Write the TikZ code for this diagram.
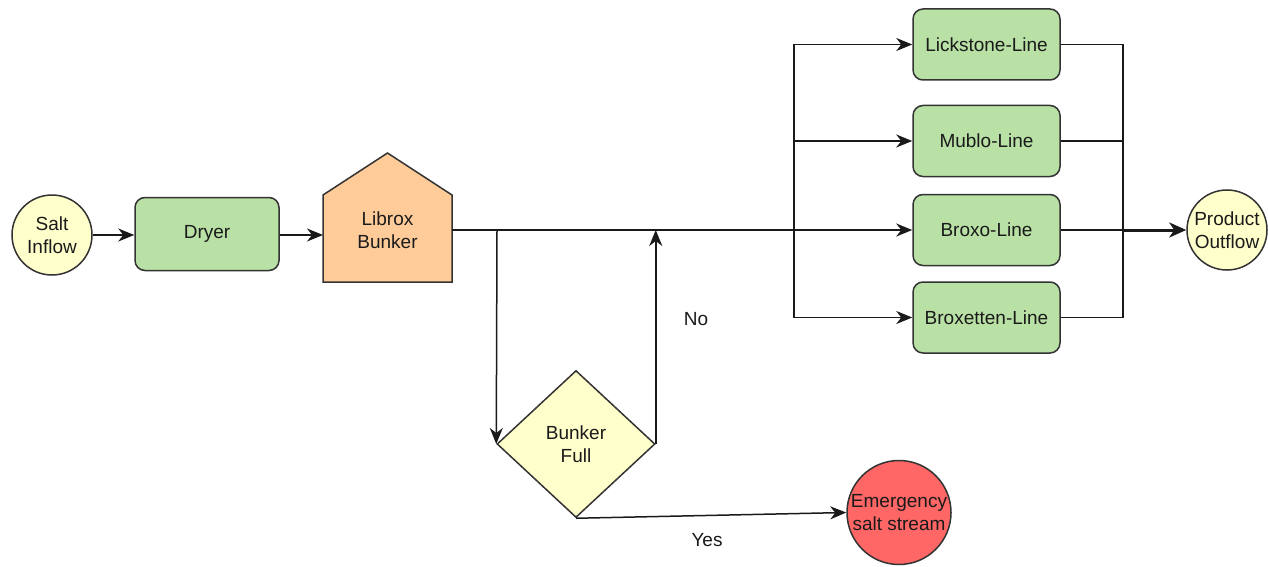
\documentclass[tikz,border=0pt]{standalone}
\usepackage{fontspec}
\setmainfont{Liberation Sans}
\usetikzlibrary{arrows.meta,shapes.geometric}
\definecolor{boxgreen}{HTML}{B9E0A5}
\definecolor{paleyellow}{HTML}{FFFFCC}
\definecolor{bunkerorange}{HTML}{FFCC99}
\definecolor{alertred}{HTML}{FF6666}
\definecolor{edgegray}{HTML}{333333}
\definecolor{inkgray}{HTML}{1A1A1A}
\tikzset{
  txt/.style={font=\fontsize{19}{22.5}\selectfont, text=inkgray, align=center},
  stagebox/.style={txt, draw=edgegray, line width=1.5pt, fill=boxgreen,
    rounded corners=10pt, inner sep=0pt},
  linebox/.style={stagebox, minimum width=147pt, minimum height=71pt},
  endpoint/.style={txt, circle, draw=edgegray, line width=1.5pt, inner sep=0pt},
  flow/.style={draw=inkgray, line width=1.5pt,
    -{Stealth[length=16pt,width=13pt,inset=5pt]}},
  wire/.style={draw=inkgray, line width=1.5pt},
  heavy/.style={draw=inkgray, line width=3pt,
    -{Stealth[length=17pt,width=15pt,inset=5pt]}},
}
\begin{document}
\begin{tikzpicture}[x=1pt,y=-1pt]
\useasboundingbox (0,0) rectangle (1268,567);

% source, dryer, bunker
\node[endpoint, fill=paleyellow, minimum size=80pt] (si) at (52,235) {Salt\\Inflow};
\node[stagebox, minimum width=144pt, minimum height=73pt] (dr) at (207,234) {Dryer};
\draw[edgegray, line width=1.5pt, fill=bunkerorange]
  (323,282) -- (323,195) -- (387.5,153) -- (452,195) -- (452,282) -- cycle;
\node[txt, minimum width=129pt, inner sep=0pt] (bk) at (387.5,230) {Librox\\Bunker};

% production lines
\node[linebox] (ls) at (986.5,44.5) {Lickstone-Line};
\node[linebox] (mb) at (986.5,141) {Mublo-Line};
\node[linebox] (bx) at (986.5,230) {Broxo-Line};
\node[linebox] (bt) at (986.5,317.5) {Broxetten-Line};
\node[endpoint, fill=paleyellow, minimum size=80pt] (po) at (1227,230) {Product\\Outflow};

% decision and overflow
\node[txt, diamond, draw=edgegray, line width=1.5pt, fill=paleyellow,
  minimum width=158pt, minimum height=147pt, inner sep=0pt] (dm) at (576,444) {Bunker\\Full};
\node[endpoint, fill=alertred, minimum size=104pt] (em) at (899,512.5) {Emergency\\salt stream};

% junction points
\coordinate (dn) at (497,230);
\coordinate (sp) at (794,230);
\coordinate (mg) at (1123,230);

% main flow
\draw[flow] (si.east |- 0,235) -- (dr.west |- 0,235);
\draw[flow] (dr.east |- 0,235) -- (323,235);
\draw[flow] (bk.east) -- (bx.west);
\draw[flow] (sp) |- (ls.west);
\draw[flow] (sp) |- (mb.west);
\draw[flow] (sp) |- (bt.west);

% bunker check loop
\draw[flow] (dn) -- (dm.west);
\draw[flow] (dm.east) -- (dm.east |- bk.east);
\draw[flow] (dm.south) -- (em.west);
\node[txt] (no) at (696,319) {No};
\node[txt] (yes) at (707,540) {Yes};

% merge to product outflow
\draw[wire] (ls.east) -| (mg);
\draw[wire] (mb.east) -| (mg);
\draw[wire] (bt.east) -| (mg);
\draw[wire] (bx.east) -- (mg);
\draw[heavy] (mg) -- (po.west);
\end{tikzpicture}
\end{document}
